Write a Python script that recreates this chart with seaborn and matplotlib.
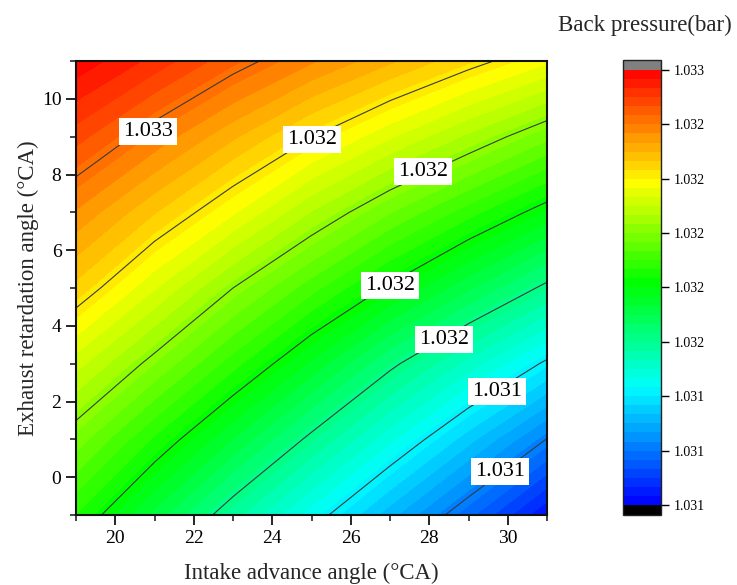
import numpy as np
import matplotlib
matplotlib.use("Agg")
import matplotlib.pyplot as plt
import seaborn as sns
from matplotlib.colors import LinearSegmentedColormap

# ---- data ----
intake_angle = [19, 21, 23, 25, 27, 29, 31]          # x grid (°CA)
exhaust_angle = [-1, 1, 3, 5, 7, 9, 11]              # y grid (°CA)

# back pressure (bar) per exhaust-angle row, along intake_angle
bp_y_m1 = [1.031901, 1.031744, 1.031590, 1.031443, 1.031294, 1.031146, 1.030988]
bp_y_1 = [1.032035, 1.031896, 1.031755, 1.031614, 1.031473, 1.031331, 1.031188]
bp_y_3 = [1.032176, 1.032049, 1.031919, 1.031785, 1.031646, 1.031521, 1.031398]
bp_y_5 = [1.032331, 1.032200, 1.032070, 1.031954, 1.031839, 1.031727, 1.031614]
bp_y_7 = [1.032448, 1.032346, 1.032239, 1.032121, 1.032015, 1.031919, 1.031822]
bp_y_9 = [1.032580, 1.032480, 1.032387, 1.032292, 1.032202, 1.032114, 1.032024]
bp_y_11 = [1.032700, 1.032624, 1.032536, 1.032459, 1.032387, 1.032313, 1.032241]

line_levels = [1.03119, 1.03141, 1.03163, 1.03185, 1.03207, 1.03229, 1.03251]
cbar_ticks = [1.03095, 1.03117, 1.03139, 1.03161, 1.03183, 1.03205, 1.03227, 1.03249, 1.03271]
label_spots = [(29.80, 0.15), (29.73, 2.26), (28.38, 3.64), (27.0, 5.07),
               (27.84, 8.08), (25.01, 8.93), (20.83, 9.14)]

x_ticks = [20, 22, 24, 26, 28, 30]
y_ticks = [0, 2, 4, 6, 8, 10]

# ---- style ----
sns.set_theme(style="ticks")
plt.rcParams["font.family"] = ["Liberation Serif", "DejaVu Serif"]
plt.rcParams["axes.unicode_minus"] = False

X, Y = np.meshgrid(intake_angle, exhaust_angle)
Z = np.array([bp_y_m1, bp_y_1, bp_y_3, bp_y_5, bp_y_7, bp_y_9, bp_y_11])

cmap = LinearSegmentedColormap.from_list(
    "origin_rainbow",
    [(0.0, "#0000FF"), (0.27, "#00FFFF"), (0.51, "#00FF00"), (0.74, "#FFFF00"), (1.0, "#FF0000")],
)
cmap.set_under("black")
cmap.set_over("#808080")

fill_levels = np.linspace(cbar_ticks[0], cbar_ticks[-1], 49)

W, H = 737, 585
fig = plt.figure(figsize=(W / 100, H / 100), dpi=100)
ax = fig.add_axes([76 / W, 70 / H, 471 / W, 454 / H])
cax = fig.add_axes([623 / W, 70 / H, 38 / W, 455 / H])

cf = ax.contourf(X, Y, Z, levels=fill_levels, cmap=cmap, extend="both")
cs = ax.contour(X, Y, Z, levels=line_levels, colors="#3a3a3a", linewidths=0.8)
labels = ax.clabel(cs, fmt="%.3f", fontsize=16, manual=label_spots, inline=False)
for t, pos in zip(labels, label_spots):
    t.set_rotation(0)
    t.set_position(pos)
    t.set_color("black")
    t.set_bbox(dict(boxstyle="square,pad=0.18", fc="white", ec="none"))

ax.set_xlim(19, 31)
ax.set_ylim(-1, 11)
ax.set_xticks(x_ticks)
ax.set_yticks(y_ticks)
ax.set_xticks(np.arange(19, 32, 2), minor=True)
ax.set_yticks(np.arange(-1, 12, 2), minor=True)
ax.tick_params(which="major", direction="out", length=7, width=1.2, labelsize=14, colors="black")
ax.tick_params(which="minor", direction="out", length=4, width=1.2)
for s in ax.spines.values():
    s.set_linewidth(1.5)
    s.set_color("#111111")
ax.set_xlabel("Intake advance angle (°CA)", fontsize=16.5, labelpad=12)
ax.set_ylabel("Exhaust retardation angle (°CA)", fontsize=16.5, labelpad=2)

cb = fig.colorbar(cf, cax=cax, ticks=cbar_ticks, format="%.3f", extendrect=True, extendfrac=0.023)
cb.outline.set_linewidth(1.0)
cb.outline.set_edgecolor("#222222")
cax.minorticks_off()
cax.tick_params(direction="out", length=6, width=1.0, labelsize=10, colors="black")

fig.text(645 / W, 1 - 25 / H, "Back pressure(bar)", ha="center", va="center", fontsize=16.5)

fig.savefig("out.png", dpi=100)
